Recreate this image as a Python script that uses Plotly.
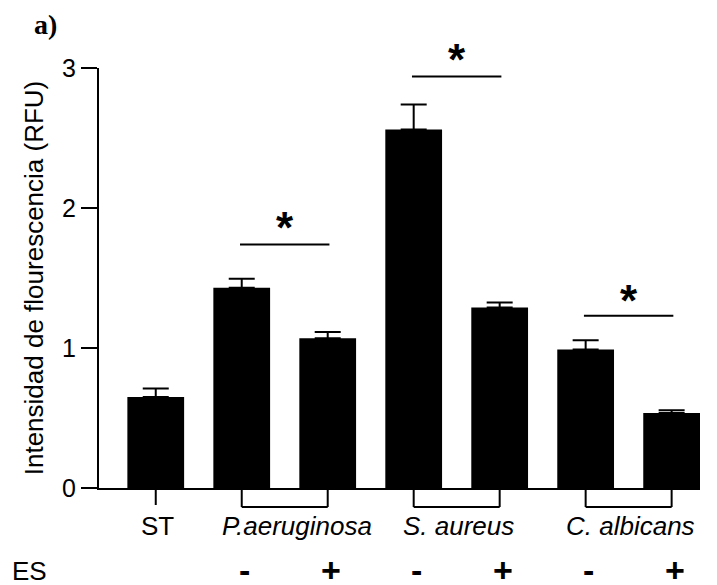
import plotly.graph_objects as go

# ---- data ----
bar_pos = [0, 1, 2, 3, 4, 5, 6]
bar_values = [0.65, 1.43, 1.07, 2.56, 1.29, 0.99, 0.535]
bar_errors = [0.06, 0.065, 0.045, 0.18, 0.035, 0.065, 0.02]

group_labels = ["ST", "P.aeruginosa", "S. aureus", "C. albicans"]
group_centers = [0, 1.5, 3.5, 5.5]
group_italic = [False, True, True, True]
group_spans = [(1, 2), (3, 4), (5, 6)]

es_signs = ["-", "+", "-", "+", "-", "+"]
es_pos = [1, 2, 3, 4, 5, 6]

sig_pairs = [(1, 2), (3, 4), (5, 6)]
sig_heights = [1.74, 2.94, 1.23]
star_heights = [1.93, 3.13, 1.41]

y_ticks = [0, 1, 2, 3]
Y_MAX = 3

FONT = "Liberation Sans, Arial, sans-serif"
PLOT_H = 420  # plot area height in px (for converting offsets to paper units)
PLOT_W = 601
label_xshift = [2, 12, 2, 2]

fig = go.Figure()
fig.add_trace(go.Bar(
    x=bar_pos, y=bar_values, width=0.66,
    marker=dict(color="black", line=dict(width=0)),
    error_y=dict(type="data", array=bar_errors, arrayminus=[0] * len(bar_errors),
                 symmetric=False, color="black", thickness=2, width=13),
    showlegend=False, hoverinfo="skip",
))

shapes = []
tick_depth = -19 / PLOT_H
shapes.append(dict(type="line", xref="x", yref="paper", x0=group_centers[0], x1=group_centers[0],
                   y0=0, y1=-17 / PLOT_H, line=dict(color="black", width=2)))
for a, b in group_spans:
    for xx in (a, b):
        shapes.append(dict(type="line", xref="x", yref="paper", x0=xx, x1=xx, y0=0, y1=tick_depth,
                           line=dict(color="black", width=2)))
    shapes.append(dict(type="line", xref="x", yref="paper", x0=a, x1=b, y0=tick_depth, y1=tick_depth,
                       line=dict(color="black", width=2)))
for (a, b), h in zip(sig_pairs, sig_heights):
    shapes.append(dict(type="line", xref="x", yref="y", x0=a - 0.02, x1=b + 0.02, y0=h, y1=h,
                       line=dict(color="black", width=2)))

annotations = []
for (a, b), h in zip(sig_pairs, star_heights):
    annotations.append(dict(x=(a + b) / 2, y=h / Y_MAX, xref="x", yref="paper", text="<b>*</b>",
                            showarrow=False, font=dict(family=FONT, size=44, color="black"),
                            yanchor="middle", yshift=-10))
for lab, c, it, xs in zip(group_labels, group_centers, group_italic, label_xshift):
    annotations.append(dict(x=c, y=-38 / PLOT_H, xref="x", yref="paper", xshift=xs,
                            text=f"<i>{lab}</i>" if it else lab, showarrow=False,
                            font=dict(family=FONT, size=26, color="black"), yanchor="middle"))
for s, p in zip(es_signs, es_pos):
    annotations.append(dict(x=p, y=-82 / PLOT_H, xref="x", yref="paper", text=f"<b>{s}</b>",
                            showarrow=False, font=dict(family=FONT, size=34, color="black"),
                            yanchor="middle", xshift=3))
annotations.append(dict(x=(29 - 99) / PLOT_W, y=(488 - 571) / PLOT_H, xref="paper", yref="paper",
                        xanchor="center", yanchor="middle", text="ES", showarrow=False,
                        font=dict(family=FONT, size=26, color="black")))
annotations.append(dict(x=(45 - 99) / PLOT_W, y=(488 - 25) / PLOT_H, xref="paper", yref="paper",
                        xanchor="center", yanchor="middle", text="<b>a)</b>", showarrow=False,
                        font=dict(family="Liberation Serif, Times New Roman, serif", size=28,
                                  color="black")))

fig.update_layout(
    width=717, height=585,
    margin=dict(l=99, r=17, t=68, b=97),
    paper_bgcolor="white", plot_bgcolor="white",
    shapes=shapes, annotations=annotations,
    xaxis=dict(range=[-0.66, 6.33], showticklabels=False, ticks="", showgrid=False,
               zeroline=False, showline=True, linecolor="black", linewidth=2),
    yaxis=dict(range=[0, Y_MAX], tickvals=y_ticks, ticks="outside", ticklen=16, tickwidth=2,
               tickcolor="black", showgrid=False, zeroline=False, showline=True,
               linecolor="black", linewidth=2,
               tickfont=dict(family=FONT, size=25, color="black"),
               title=dict(text="Intensidad de flourescencia (RFU)",
                          font=dict(family=FONT, size=26, color="black"), standoff=11)),
)

fig.write_html("out.html", config={"displayModeBar": False},
               post_script="document.body.style.margin='0';")
